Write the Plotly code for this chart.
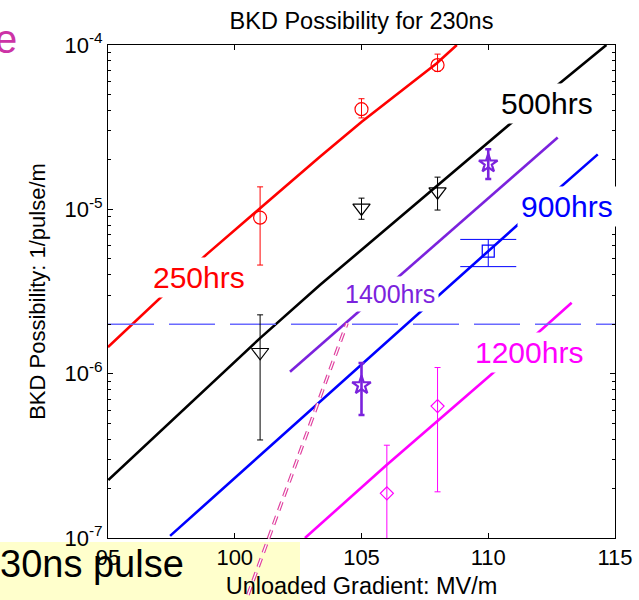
import plotly.graph_objects as go

# ---------------- data ----------------
# fitted lifetime lines
fit250_x = [95.0, 98.89, 103.36, 105.01, 107.97, 108.76]
fit250_y = [1.45e-6, 5.32e-6, 2.09e-5, 3.41e-5, 7.74e-5, 1.0e-4]

fit500_x = [95.01, 97.32, 100.99, 103.36, 107.96, 110.92, 114.66]
fit500_y = [2.25e-7, 4.86e-7, 1.64e-6, 3.46e-6, 1.374e-5, 3.365e-5, 1.0e-4]

fit900_x = [97.45, 103.36, 107.97, 111.25, 114.32]
fit900_y = [1.03e-7, 6.75e-7, 2.92e-6, 8.28e-6, 2.16e-5]

fit1400_x = [102.18, 106.65, 112.74]
fit1400_y = [1.026e-6, 4.10e-6, 2.74e-5]

fit1200_x = [102.77, 105.99, 110.14, 113.29]
fit1200_y = [1.0e-7, 2.78e-7, 9.95e-7, 2.70e-6]

# steep double-dashed curve
steep_x = [100.52, 104.43]
steep_y = [4.5e-8, 2.03e-6]

# horizontal reference level
ref_level = 2.0e-6
x_span = [95, 115]

# measured points: value, upper end, lower end of error bar
m250_x = [101, 105, 108]
m250_y = [8.9e-6, 4.07e-5, 7.55e-5]
m250_hi = [1.37e-5, 4.71e-5, 8.8e-5]
m250_lo = [4.58e-6, 3.6e-5, 6.9e-5]

m500_x = [101, 105, 108]
m500_y = [1.35e-6, 1.02e-5, 1.28e-5]
m500_hi = [2.28e-6, 1.17e-5, 1.57e-5]
m500_lo = [3.95e-7, 8.7e-6, 9.9e-6]

m900_x = [110]
m900_y = [5.57e-6]
m900_hi = [6.56e-6]
m900_lo = [4.48e-6]

m1400_x = [105, 110]
m1400_y = [8.5e-7, 1.9e-5]
m1400_hi = [1.16e-6, 2.32e-5]
m1400_lo = [5.6e-7, 1.53e-5]

m1200_x = [106, 108]
m1200_y = [1.87e-7, 6.35e-7]
m1200_hi = [3.67e-7, 1.09e-6]
m1200_lo = [5.0e-8, 1.91e-7]

x_ticks = [95, 100, 105, 110, 115]
y_ticks = [1e-7, 1e-6, 1e-5, 1e-4]
y_ticktext = ["10<sup>-7</sup>", "10<sup>-6</sup>", "10<sup>-5</sup>", "10<sup>-4</sup>"]
y_minor = [m * 10.0 ** e for e in (-7, -6, -5) for m in range(2, 10)]

RED = "#ff0000"
BLACK = "#000000"
BLUE = "#0000ff"
PURPLE = "#7b22dd"
MAGENTA = "#ff00ff"
PINK = "#e0409f"

# ---------------- figure ----------------
W, H = 639, 600
ML, MR, MT, MB = 108, 24, 45, 0
plot_w = W - ML - MR
plot_h = H - MT - MB
bottom_px = 538
y_dom0 = (H - bottom_px) / plot_h
# second (hidden) y axis spanning down to the page bottom with the same scale
dec_px = (bottom_px - MT) / 3.0
y2_low = -4 - plot_h / dec_px


def px_x(px):
    return (px - ML) / plot_w


def px_y(py):
    return (H - py) / plot_h


fig = go.Figure()


def line(x, y, color, width=2.6, **kw):
    fig.add_trace(go.Scatter(x=x, y=y, mode="lines", line=dict(color=color, width=width, **kw),
                             showlegend=False, hoverinfo="skip"))


line(fit250_x, fit250_y, RED)
line(fit500_x, fit500_y, BLACK)
line(fit900_x, fit900_y, BLUE)
line(fit1400_x, fit1400_y, PURPLE)
line(fit1200_x, fit1200_y, MAGENTA)
line(x_span, [ref_level, ref_level], "#6a6aff", width=1.6, dash="46px,15px")

# double dashed steep curve on the hidden full-height axes
for col, wd in ((PINK, 3.6), ("#ffffff", 1.3)):
    fig.add_trace(go.Scatter(x=steep_x, y=steep_y, mode="lines", xaxis="x2", yaxis="y2",
                             line=dict(color=col, width=wd, dash="9px,6px"),
                             showlegend=False, hoverinfo="skip"))


def pts(x, y, hi, lo, color, symbol, size, lw=1.2, ethick=1.0, ewidth=3):
    fig.add_trace(go.Scatter(
        x=x, y=y, mode="markers",
        marker=dict(symbol=symbol, size=size, color=color, line=dict(color=color, width=lw)),
        error_y=dict(type="data", symmetric=False,
                     array=[h - v for h, v in zip(hi, y)],
                     arrayminus=[v - l for v, l in zip(y, lo)],
                     color=color, thickness=ethick, width=ewidth),
        showlegend=False, hoverinfo="skip"))


pts(m250_x, m250_y, m250_hi, m250_lo, RED, "circle-open", 13)
pts(m500_x, m500_y, m500_hi, m500_lo, BLACK, "triangle-down-open", 15)
pts(m900_x, m900_y, m900_hi, m900_lo, BLUE, "square-open", 12, ewidth=28)
pts(m1400_x, m1400_y, m1400_hi, m1400_lo, PURPLE, "star-open", 14, lw=2.2, ethick=2.6, ewidth=3)
pts(m1200_x, m1200_y, m1200_hi, m1200_lo, MAGENTA, "diamond-open", 10)

FONT = "Liberation Sans, Arial, Helvetica, sans-serif"

annotations = []


def label(text, x, ly, color, size=30):
    annotations.append(dict(text=text, x=x, y=ly, xref="x", yref="y", showarrow=False,
                            font=dict(size=size, color=color, family=FONT),
                            bgcolor="#ffffff", borderpad=3,
                            xanchor="center", yanchor="middle"))


label("250hrs", 98.59, -5.415, RED)
label("500hrs", 112.31, -4.353, BLACK)
label("900hrs", 113.09, -4.984, BLUE)
label("1400hrs", 106.14, -5.516, PURPLE, size=25)
label("1200hrs", 111.61, -5.869, MAGENTA)

# slide fragments around the chart
annotations.append(dict(text="30ns pulse", x=px_x(-2), y=px_y(564), xref="paper", yref="paper",
                        showarrow=False, xanchor="left", yanchor="middle",
                        font=dict(size=38, color="#000000", family=FONT)))
annotations.append(dict(text="e", x=px_x(19), y=px_y(39), xref="paper", yref="paper",
                        showarrow=False, xanchor="right", yanchor="middle",
                        font=dict(size=40, color="#cc33a6", family=FONT)))

axis_common = dict(showline=True, linecolor="black", linewidth=1, mirror="ticks",
                   ticks="inside", ticklen=5, tickcolor="black", showgrid=False, zeroline=False,
                   tickfont=dict(size=22, color="black", family=FONT))

fig.update_layout(
    width=W, height=H,
    margin=dict(l=ML, r=MR, t=MT, b=MB, autoexpand=False),
    paper_bgcolor="white", plot_bgcolor="rgba(0,0,0,0)",
    font=dict(family=FONT, color="black"),
    title=dict(text="BKD Possibility for 230ns", x=px_x(361.5), xref="paper", xanchor="center",
               y=1 - 21 / H, yref="container", yanchor="middle",
               font=dict(size=23.5, color="black", family=FONT)),
    xaxis=dict(range=[95, 115], tickvals=x_ticks, domain=[0, 1], anchor="y",
               title=dict(text="Unloaded Gradient: MV/m", font=dict(size=23.5, family=FONT), standoff=8),
               **axis_common),
    yaxis=dict(type="log", range=[-7, -4], domain=[y_dom0, 1], anchor="x",
               tickvals=y_ticks, ticktext=y_ticktext,
               minor=dict(tickvals=y_minor, ticks="inside", ticklen=3, tickcolor="black"),
               title=dict(text="BKD Possibility: 1/pulse/m", font=dict(size=22, family=FONT), standoff=12),
               **axis_common),
    xaxis2=dict(range=[95, 115], domain=[0, 1], anchor="y2", visible=False),
    yaxis2=dict(type="log", range=[y2_low, -4], domain=[0, 1], anchor="x2", visible=False),
    shapes=[dict(type="rect", xref="paper", yref="paper", x0=px_x(0), x1=px_x(300),
                 y0=px_y(600), y1=px_y(542), fillcolor="#ffffcc", line=dict(width=0), layer="below")],
    annotations=annotations,
)

fig.write_html("out.html", config={"displayModeBar": False},
               post_script="document.body.style.margin='0px';document.body.style.overflow='hidden';")
